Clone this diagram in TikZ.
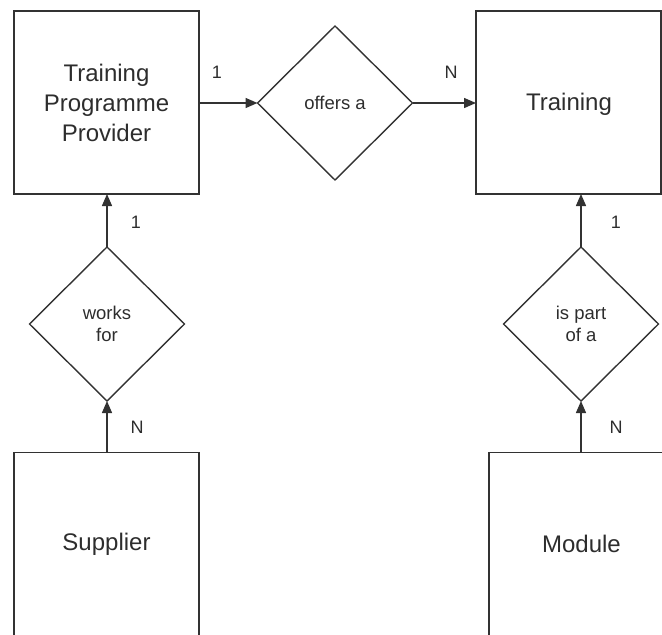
\documentclass[tikz,border=0pt]{standalone}
\usepackage{fontspec}
\setmainfont{Liberation Sans}
\usetikzlibrary{shapes.geometric,arrows.meta}
\definecolor{ink}{RGB}{50,50,50}
\definecolor{txt}{RGB}{45,45,45}
\begin{document}
\begin{tikzpicture}[x=1pt,y=-1pt,
  entity/.style={draw=ink,line width=1.4pt,rectangle,minimum width=185pt,minimum height=183pt,
    inner sep=0pt,outer sep=0pt,align=center,text=txt,font=\fontsize{24}{30}\selectfont},
  relation/.style={draw=ink,line width=1.4pt,diamond,minimum width=155pt,minimum height=154pt,
    inner sep=0pt,outer sep=0pt,align=center,text=txt,font=\fontsize{18.5}{22}\selectfont},
  link/.style={draw=ink,line width=1.4pt,-{Triangle[length=12pt,width=10pt]}},
  card/.style={text=txt,font=\fontsize{18}{22}\selectfont,inner sep=0pt}]
  \useasboundingbox (0,0) rectangle (662,635);
  \clip (0,0) rectangle (662,635);

  % entities
  \node[entity] (tpp) at (106.5,102.5) {Training\\Programme\\Provider};
  \node[entity] (training) at (568.5,102.5) {};
  \node[text=txt,font=\fontsize{24}{30}\selectfont] (traininglabel) at (569,104) {Training};
  \node[entity] (supplier) at (106.5,544) {Supplier};
  \node[entity] (module) at (581.5,544) {Module};

  % relationships
  \node[relation] (offers) at (335,103) {offers a};
  \node[relation] (works) at (107,324) {works\\for};
  \node[relation] (partof) at (581,324) {is part\\of a};

  % connectors
  \draw[link] (tpp.east |- offers.west) -- (offers.west);
  \draw[link] (offers.east) -- (offers.east -| training.west);
  \draw[link] (works.north) -- (works.north |- tpp.south);
  \draw[link] (works.south |- supplier.north) -- (works.south);
  \draw[link] (partof.north) -- (partof.north |- training.south);
  \draw[link] (partof.south |- module.north) -- (partof.south);

  % cardinalities
  \node[card] (c1) at (217,72) {1};
  \node[card] (c2) at (451,72) {N};
  \node[card] (c3) at (136,222) {1};
  \node[card] (c4) at (137,427) {N};
  \node[card] (c5) at (616,222) {1};
  \node[card] (c6) at (616,427) {N};
\end{tikzpicture}
\end{document}
